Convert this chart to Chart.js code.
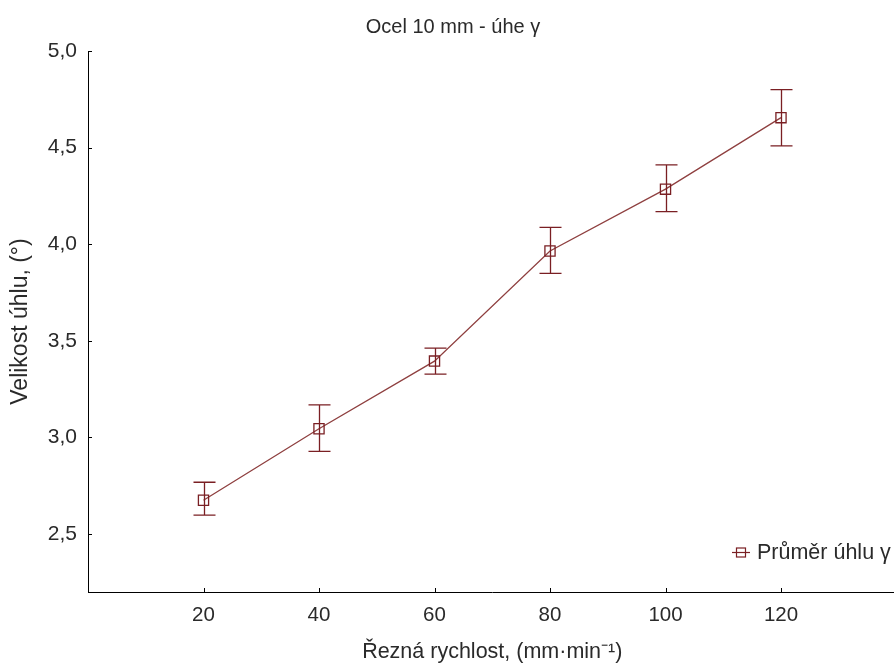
<!DOCTYPE html>
<html>
<head>
<meta charset="utf-8">
<script src="https://cdn.jsdelivr.net/npm/chart.js@4.4.1/dist/chart.umd.min.js"></script>
<style>
  html, body { margin: 0; padding: 0; background: #fff; overflow: hidden; }
</style>
</head>
<body>
<canvas class="js-chart" width="905" height="666"></canvas>
<script>
// data
const speeds = [20, 40, 60, 80, 100, 120];
const meanAngle = [2.675, 3.045, 3.395, 3.965, 4.285, 4.655];
const lowerAngle = [2.598, 2.928, 3.328, 3.849, 4.169, 4.509];
const upperAngle = [2.768, 3.169, 3.462, 4.087, 4.411, 4.800];
const xTicks = [20, 40, 60, 80, 100, 120];
const yTicks = [2.5, 3.0, 3.5, 4.0, 4.5, 5.0];

const FONT = "'Liberation Sans', Arial, sans-serif";
const markColor = '#7a1f23';
const lineColor = '#8f4040';
const textColor = '#2a2a2a';

// error bars (whiskers with caps)
const errorBars = {
  id: 'errorBars',
  afterDatasetsDraw(chart) {
    const { ctx, scales: { x, y } } = chart;
    ctx.save();
    ctx.strokeStyle = markColor;
    ctx.lineWidth = 1.3;
    speeds.forEach((s, i) => {
      const px = Math.round(x.getPixelForValue(s)) + 0.5;
      const top = y.getPixelForValue(upperAngle[i]);
      const bot = y.getPixelForValue(lowerAngle[i]);
      ctx.beginPath();
      ctx.moveTo(px, top);
      ctx.lineTo(px, bot);
      ctx.moveTo(px - 11, top);
      ctx.lineTo(px + 11, top);
      ctx.moveTo(px - 11, bot);
      ctx.lineTo(px + 11, bot);
      ctx.stroke();
    });
    ctx.restore();
  },
};

// short tick marks pointing into the plot
const innerTicks = {
  id: 'innerTicks',
  afterDraw(chart) {
    const { ctx, chartArea, scales: { x, y } } = chart;
    ctx.save();
    ctx.strokeStyle = '#000';
    ctx.lineWidth = 1;
    ctx.beginPath();
    xTicks.forEach((v) => {
      const px = Math.round(x.getPixelForValue(v)) + 0.5;
      ctx.moveTo(px, chartArea.bottom);
      ctx.lineTo(px, chartArea.bottom - 4);
    });
    yTicks.forEach((v) => {
      const py = Math.round(y.getPixelForValue(v)) + 0.5;
      ctx.moveTo(chartArea.left, py);
      ctx.lineTo(chartArea.left + 4, py);
    });
    ctx.stroke();
    ctx.restore();
  },
};

// title and legend drawn by hand
const titleAndLegend = {
  id: 'titleAndLegend',
  afterDraw(chart, args, options) {
    const { ctx } = chart;
    ctx.save();
    ctx.fillStyle = textColor;
    ctx.font = `20px ${FONT}`;
    ctx.textAlign = 'center';
    ctx.textBaseline = 'middle';
    ctx.fillText(options.title, 453, 27);

    // legend entry
    const lx = 741;
    const ly = 552;
    ctx.strokeStyle = markColor;
    ctx.lineWidth = 1.2;
    ctx.beginPath();
    ctx.moveTo(lx - 9, ly + 0.5);
    ctx.lineTo(lx + 9, ly + 0.5);
    ctx.stroke();
    ctx.strokeRect(lx - 4.5, ly - 4, 9, 9);
    ctx.font = `21.5px ${FONT}`;
    ctx.textAlign = 'left';
    ctx.fillText(chart.data.datasets[0].label, 757, ly + 1);
    ctx.restore();
  },
};

const ctx = document.querySelector('.js-chart').getContext('2d');

const chart = new Chart(ctx, {
  type: 'line',
  data: {
    datasets: [{
      label: 'Průměr úhlu γ',
      data: speeds.map((s, i) => ({ x: s, y: meanAngle[i] })),
      borderColor: lineColor,
      borderWidth: 1.3,
      pointStyle: 'rect',
      pointRadius: 7.2,
      pointBorderWidth: 1.3,
      pointBorderColor: markColor,
      pointBackgroundColor: 'rgba(0,0,0,0)',
      tension: 0,
      fill: false,
    }],
  },
  plugins: [errorBars, innerTicks, titleAndLegend],
  options: {
    responsive: false,
    animation: false,
    layout: {
      padding: { top: 51, right: 0, bottom: 0, left: 0 },
    },
    plugins: {
      legend: { display: false },
      tooltip: { enabled: false },
      titleAndLegend: { title: 'Ocel 10 mm - úhe γ' },
    },
    scales: {
      x: {
        type: 'linear',
        min: 0,
        max: 140,
        afterBuildTicks(scale) {
          scale.ticks = xTicks.map((v) => ({ value: v }));
        },
        afterFit(scale) {
          scale.height = 74;
        },
        grid: { display: false, drawTicks: false },
        border: { display: true, color: '#000', width: 1 },
        ticks: {
          padding: 11,
          color: textColor,
          font: { family: FONT, size: 20.5 },
          maxRotation: 0,
        },
        title: {
          display: true,
          text: 'Řezná rychlost, (mm·min⁻¹)',
          color: textColor,
          font: { family: FONT, size: 21.5 },
          padding: { top: 0, bottom: 1 },
        },
      },
      y: {
        min: 2.2,
        max: 5.0,
        afterBuildTicks(scale) {
          scale.ticks = yTicks.map((v) => ({ value: v }));
        },
        afterFit(scale) {
          scale.width = 88;
        },
        grid: { display: false, drawTicks: false },
        border: { display: true, color: '#000', width: 1 },
        ticks: {
          padding: 11,
          color: textColor,
          font: { family: FONT, size: 21 },
          callback: (v) => v.toFixed(1).replace('.', ','),
        },
        title: {
          display: true,
          text: 'Velikost úhlu, (°)',
          color: textColor,
          font: { family: FONT, size: 23 },
          padding: { top: 7, bottom: 7 },
        },
      },
    },
  },
});
</script>
</body>
</html>
